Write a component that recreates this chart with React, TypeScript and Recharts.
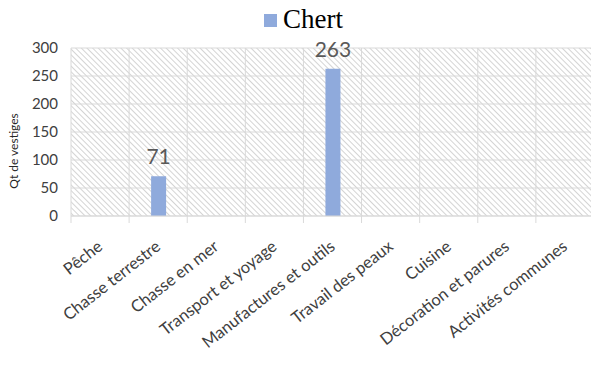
import { BarChart, Bar, XAxis, YAxis, CartesianGrid, Legend, LabelList } from "recharts";

const CATEGORIES = [
  "Pêche",
  "Chasse terrestre",
  "Chasse en mer",
  "Transport et yoyage",
  "Manufactures et outils",
  "Travail des peaux",
  "Cuisine",
  "Décoration et parures",
  "Activités communes",
];
const CHERT = [null, 71, null, null, 263, null, null, null, null];
const Y_TICKS = [0, 50, 100, 150, 200, 250, 300];

const data = CATEGORIES.map((name, i) => ({ name, chert: CHERT[i] }));

const BLUE = "#8FAADC";
const GRID = "#d9d9d9";
const SANS = "Lato, 'Open Sans', sans-serif";

// ticks rotated like excel, with small marks at the category borders
const XTick = (props: any) => {
  const { x, y, payload, index } = props;
  const half = payload && payload.offset ? payload.offset : 29;
  const ty = y + 28;
  return (
    <g>
      <line x1={x - half} y1={y} x2={x - half} y2={y + 7} stroke={GRID} />
      {index === CATEGORIES.length - 1 && (
        <line x1={x + half} y1={y} x2={x + half} y2={y + 7} stroke={GRID} />
      )}
      <text
        x={x}
        y={ty}
        dy="0.35em"
        textAnchor="end"
        transform={`rotate(-38, ${x}, ${ty})`}
        fontSize={16.5}
        fontFamily={SANS}
        fill="#404040"
      >
        {payload.value}
      </text>
    </g>
  );
};

const LegendBox = () => (
  <div style={{ position: "relative", height: 30 }}>
    <div style={{ position: "absolute", left: 264, top: 14, width: 13, height: 13, background: BLUE }} />
    <div
      style={{
        position: "absolute",
        left: 283,
        top: 4,
        lineHeight: "30px",
        fontSize: 27,
        fontFamily: "'Liberation Serif', 'DejaVu Serif', serif",
        color: "#000",
      }}
    >
      Chert
    </div>
  </div>
);

const YTitle = (props: any) => {
  const vb = props.viewBox;
  const cx = vb.x + 14;
  const cy = vb.y + vb.height / 2 + 19;
  return (
    <text
      x={cx}
      y={cy}
      dy="0.35em"
      textAnchor="middle"
      transform={`rotate(-90, ${cx}, ${cy})`}
      fontSize={12}
      fontFamily={SANS}
      fill="#262626"
    >
      Qt de vestiges
    </text>
  );
};

// vertical grid lines sit on the category borders, not the centres
const borderLines = ({ offset }: any) =>
  Array.from({ length: CATEGORIES.length + 1 }, (_, i) => offset.left + (i * offset.width) / CATEGORIES.length);

export default function App() {
  return (
    <div style={{ position: "absolute", left: 0, top: 0, width: 591, height: 367, overflow: "hidden", background: "#fff" }}>
      <svg width={0} height={0} style={{ position: "absolute" }}>
        <defs>
          <pattern id="hatch" width={4} height={4} patternUnits="userSpaceOnUse" patternTransform="rotate(45)">
            <rect width={4} height={4} fill="#fff" />
            <line x1={0} y1={0.5} x2={4} y2={0.5} stroke="#d4d4d4" strokeWidth={1} />
          </pattern>
        </defs>
      </svg>
      <BarChart width={594} height={367} data={data} margin={{ top: 18, right: 0, left: 0, bottom: 0 }}>
        <Legend verticalAlign="top" height={30} content={<LegendBox />} wrapperStyle={{ left: 0, top: 0, width: 594 }} />
        <CartesianGrid
          stroke={GRID}
          fill="url(#hatch)"
          fillOpacity={1}
          verticalCoordinatesGenerator={borderLines}
        />
        <XAxis
          dataKey="name"
          interval={0}
          height={151}
          tickSize={0}
          tickMargin={0}
          tickLine={false}
          axisLine={{ stroke: GRID }}
          tick={<XTick />}
        />
        <YAxis
          width={71}
          domain={[0, 300]}
          ticks={Y_TICKS}
          axisLine={false}
          tickLine={false}
          tickSize={0}
          tickMargin={13}
          tick={{ fontSize: 15, fontFamily: SANS, fill: "#404040" }}
          label={<YTitle />}
        />
        <Bar dataKey="chert" fill={BLUE} barSize={15} isAnimationActive={false}>
          <LabelList
            dataKey="chert"
            position="top"
            offset={12}
            fill="#595959"
            fontSize={21}
            fontFamily={SANS}
            formatter={(v: any) => (v == null ? "" : v)}
          />
        </Bar>
      </BarChart>
    </div>
  );
}
